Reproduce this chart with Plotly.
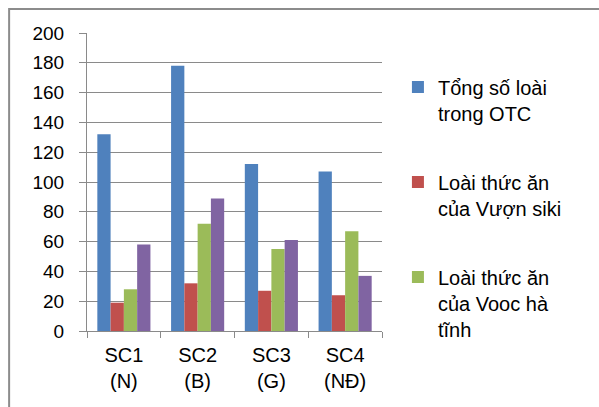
import plotly.graph_objects as go

# Site labels (category axis)
categories = ["SC1<br>(N)", "SC2<br>(B)", "SC3<br>(G)", "SC4<br>(NĐ)"]

# Species counts per site
tong_so_loai = [132, 178, 112, 107]
thuc_an_vuon = [19, 32, 27, 24]
thuc_an_vooc = [28, 72, 55, 67]
series_4 = [58, 89, 61, 37]

y_ticks = [0, 20, 40, 60, 80, 100, 120, 140, 160, 180, 200]

colors = ["#4F81BD", "#C0504D", "#9BBB59", "#8064A2"]
FONT = "Liberation Sans, Arial, sans-serif"
GRID = "#8a8a8a"

fig = go.Figure()
fig.add_trace(go.Bar(x=categories, y=tong_so_loai, name="Tổng số loài<br>trong OTC",
                     marker_color=colors[0], legendgroup="a"))
fig.add_trace(go.Bar(x=categories, y=thuc_an_vuon, name="Loài thức ăn<br>của Vượn siki",
                     marker_color=colors[1], legendgroup="b"))
fig.add_trace(go.Bar(x=categories, y=thuc_an_vooc, name="Loài thức ăn<br>của Vooc hà<br>tĩnh",
                     marker_color=colors[2], legendgroup="c"))
fig.add_trace(go.Bar(x=categories, y=series_4, marker_color=colors[3],
                     showlegend=False, legendgroup="d"))

fig.update_traces(marker_line_width=0)

fig.update_layout(
    width=599, height=407,
    margin=dict(l=87, r=217, t=33, b=76),
    paper_bgcolor="white", plot_bgcolor="white",
    barmode="group", bargap=0.28, bargroupgap=0,
    font=dict(family=FONT, color="black"),
    showlegend=True,
    legend=dict(
        x=1.054, xanchor="left", y=0.884, yanchor="top",
        font=dict(family=FONT, size=20, color="black"),
        traceorder="grouped", tracegroupgap=40, valign="top",
        bgcolor="rgba(0,0,0,0)",
    ),
    xaxis=dict(
        showline=True, linecolor=GRID, linewidth=1,
        ticks="outside", tickson="boundaries", ticklen=6, tickcolor=GRID,
        tickfont=dict(size=20), showgrid=False, ticklabelstandoff=6,
    ),
    yaxis=dict(
        range=[0, 200], tickvals=y_ticks,
        showline=True, linecolor=GRID, linewidth=1,
        ticks="outside", ticklen=7, tickcolor=GRID,
        showgrid=True, gridcolor=GRID, gridwidth=1,
        zeroline=False,
        tickfont=dict(size=19), ticklabelstandoff=11,
    ),
    shapes=[dict(type="rect", xref="paper", yref="paper",
                 x0=-0.264, x1=2.0, y0=-1.0, y1=1.0805,
                 line=dict(color="#8c8c8c", width=2), layer="below")],
)

fig.write_html("out.html")
